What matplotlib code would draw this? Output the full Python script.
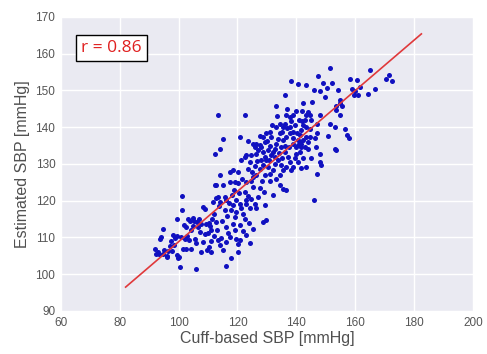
import matplotlib
matplotlib.use("Agg")
import matplotlib.pyplot as plt

# Cuff-based SBP (x) vs estimated SBP (y)
cuff_sbp = [
    92, 92.3, 93.4, 94.7, 95.9, 96.4, 94, 94.7, 93.6, 97, 97.6, 98.1, 98.7, 99.3, 99.3, 99.9, 100.5, 101, 101,
    93, 95, 96, 97.5, 99.5, 100, 98.5,
    101.5, 102.1, 102.6, 103.2, 104, 105.2, 106.3, 104.3, 103.7, 104.3, 105.5, 106, 107.2, 107.7, 108.3, 108.3,
    108.9, 109.4, 102.5, 103, 104.8, 106.5, 107, 106, 109, 109.8, 105, 107.5, 101.8, 100.8,
    110, 110.5, 111.1, 111.1, 111.7, 112.3, 112.8, 112.8, 113.4, 112.8, 113.4, 114, 114.5, 114, 115.1, 115.7,
    116.2, 115.7, 116.2, 116.8, 117.4, 118.5, 117.9, 119, 118.5, 119, 119.6, 117.4, 118.5, 117.4, 119, 119.6,
    116.2, 117.9, 113.4, 115.1, 112.3, 114, 110.5, 111.5, 112, 113, 114.8, 115, 116, 117, 118, 119.5, 111, 112,
    113.8, 110.8, 116.5, 118.8, 114.2,
    120.2, 120.7, 120.2, 120.2, 120.2, 120.7, 121.3, 121.8, 122.4, 123, 123.6, 122.4, 123, 123.6, 122.4, 123,
    124.7, 124.1, 124.7, 125.3, 125.3, 125.8, 126.4, 127, 125.3, 126.4, 127.6, 128.1, 128.7, 129.2, 129.8,
    128.7, 127.6, 126.4, 124.1, 123, 125.3, 128.7, 129.8, 129.2, 127, 125.8, 126.4, 124.1, 122.4, 120.7, 129.8,
    128.7, 121, 122, 124, 127.5, 128.5, 126, 121.5, 129.5, 123.5, 128, 124.5, 129, 120.5, 126.8, 122.8, 125,
    129.4, 127.8, 121.2,
    130.4, 130.9, 131.5, 132.1, 132.6, 133.2, 133.8, 134.3, 130.9, 131.5, 133.2, 134.3, 135.5, 136, 136.6,
    137.7, 138.3, 138.9, 139.4, 138.9, 137.7, 136.6, 135.5, 134.9, 136, 137.1, 137.7, 136.6, 135.5, 134.3,
    133.2, 134.9, 133.8, 132.6, 138.9, 132.1, 135.5, 136.6, 133.2, 136, 138.3, 138.9, 138.3, 139.4, 131, 132,
    130.5, 135, 137.5, 139, 136.3, 134, 131.8, 133.5, 130.2, 137, 139.8, 135.2, 132.8, 138, 131.2, 134.6,
    130.6, 136.8,
    140, 140.6, 141.1, 141.7, 142.2, 142.8, 143.4, 143.9, 144.5, 145.1, 143.4, 142.2, 141.7, 141.1, 140, 140.6,
    141.1, 140.6, 141.7, 142.8, 143.9, 144.5, 143.4, 140.5, 143.4, 142.2, 142.2, 143.4, 146, 147.3, 148, 149.7,
    149, 148, 147.2, 147.2, 146.8, 148, 148, 148.5, 147.2, 146, 140.8, 142, 144.8, 145.5, 146.5, 140.3, 141.5,
    144, 145, 141.8,
    151.3, 153.4, 153.6, 154.7, 156.7, 157.2, 157.8, 153, 151.3, 153, 153.6, 154, 154.7, 154.9, 150.5, 152,
    158.3, 160.6, 159, 160, 159.5, 161, 161.5, 164.3, 165.2, 166.6, 170.5, 171.4, 172.5, 155.5, 150.8,
]
est_sbp = [
    107, 105.4, 105.4, 105.6, 104.7, 106.4, 110, 112.4, 109.7, 107.6, 106.4, 110.8, 109.9, 115.1, 105.2, 104.3, 102, 121.2, 117.4,
    106, 106.5, 105, 109, 110.5, 104.8, 108,
    107, 109.7, 112.9, 115.1, 114.6, 114.4, 114.2, 112, 109.3, 107, 109.7, 101.3, 111.6, 106.1, 108.8, 118.4,
    117.8, 113.6, 106.8, 110.5, 113, 112.8, 115, 108.5, 111, 106.5, 115.3, 113.8, 113.5, 110,
    111.2, 107.5, 106.1, 112.1, 119.7, 124.4, 124.3, 120.8, 121, 114.3, 109.3, 108, 109.8, 126.9, 124.3, 121,
    120.1, 117.4, 112.9, 111.2, 110.2, 118.8, 117.4, 115.6, 113.8, 112, 109.7, 127.8, 128.3, 125.1, 125.1, 120.1,
    102.3, 104.5, 143.4, 136.9, 132.6, 134.2, 114, 115, 116.5, 112, 114.5, 106.5, 108.8, 119.5, 121.5, 117, 109, 110.5,
    118.5, 113, 115.8, 122.8, 119.6,
    106.1, 109.3, 108.3, 127.8, 124.7, 119.2, 117.9, 116.5, 115.1, 120.3, 121.3, 122.4, 125.1, 128.7, 131.9, 132.4,
    132.4, 130.6, 125.5, 123.8, 126.5, 134.6, 132.8, 133.7, 135.5, 135.5, 135.1, 134.6, 133.3, 131.9, 131,
    129.6, 128.7, 126.9, 108.5, 110.6, 112.4, 114.2, 114.7, 118.8, 121, 119.2, 118.1, 117.9, 143.4, 137.4, 138.3,
    137.4, 113.5, 111.8, 114, 123.5, 125.5, 129.5, 126, 127, 136.2, 131, 120.5, 122.5, 122, 130.8, 119, 127.8,
    136, 137.7, 131,
    129.2, 127.4, 132.4, 133.3, 134.2, 135.5, 136.9, 138.3, 138.7, 137.4, 140.1, 141, 140, 141, 143.2,
    142.7, 141.8, 143.2, 140.5, 138.7, 138.3, 137.4, 136.5, 134.6, 133.3, 132, 130.6, 129.2, 128.3, 126.9,
    126, 129.6, 131, 130.1, 135.5, 121.5, 123.3, 123, 145.8, 148.7, 152.6, 129.2, 128.3, 131.5, 135, 128.5,
    133.8, 131.5, 134.5, 137, 135, 133, 140.5, 143, 136.2, 145, 144.5, 138.8, 131.8, 140, 125.5, 124.2,
    131.2, 139.8,
    134.6, 136.5, 137.8, 139.2, 140.5, 141.9, 143.3, 144.2, 143.3, 141.9, 140.1, 136.5, 134.6, 133.3, 132.8, 130.6,
    136, 135.1, 135.5, 134.6, 136, 137.4, 137.4, 151.7, 151.4, 146.6, 131.5, 129.2, 150, 153.9, 149.9, 148.2,
    152, 143.3, 141, 138.3, 134.6, 132.8, 130.6, 129.7, 127.4, 120.1, 142, 144.5, 139.5, 146.8, 137, 138.5, 129,
    134, 131.5, 141.8,
    156.1, 145.7, 144.6, 143.3, 139.6, 138, 137, 140, 141, 134.2, 133.8, 150, 147.5, 146.6, 150.8, 152,
    153.2, 152.8, 150.5, 149.8, 148.8, 148.9, 151, 149, 155.7, 150.5, 153, 154.1, 152.5, 145.8, 137.5,
]

# regression line end points
fit_x = [82, 182.5]
fit_y = [96.5, 165.4]

x_ticks = [60, 80, 100, 120, 140, 160, 180, 200]
y_ticks = [90, 100, 110, 120, 130, 140, 150, 160, 170]

plt.rcParams['font.family'] = ['Liberation Sans', 'DejaVu Sans']

fig = plt.figure(figsize=(4.87, 3.54), dpi=100)
ax = fig.add_axes([0.125, 0.1215, 0.846, 0.8305])
ax.set_facecolor('#eaeaf2')
for s in ax.spines.values():
    s.set_visible(False)
ax.grid(True, color='white', linewidth=1.0)
ax.set_axisbelow(True)

ax.scatter(cuff_sbp, est_sbp, s=13, color='#1010c0', linewidths=0, zorder=3)
ax.plot(fit_x, fit_y, color='#e0393b', linewidth=1.2, zorder=4)

ax.set_xlim(60, 200)
ax.set_ylim(90, 170)
ax.set_xticks(x_ticks)
ax.set_yticks(y_ticks)
ax.tick_params(length=0, labelsize=8.5, labelcolor='#555555', pad=4)

ax.set_xlabel('Cuff-based SBP [mmHg]', fontsize=11.5, color='#505050', labelpad=2)
ax.set_ylabel('Estimated SBP [mmHg]', fontsize=11.5, color='#505050', labelpad=4)

ax.text(0.05, 0.895, 'r = 0.86', transform=ax.transAxes, fontsize=12.5,
        color='#e02020', family=['Open Sans', 'DejaVu Sans'], va='center', ha='left',
        bbox=dict(boxstyle='square,pad=0.3', facecolor='white', edgecolor='black', linewidth=1.0),
        zorder=5)

fig.savefig('out.png', dpi=100)
